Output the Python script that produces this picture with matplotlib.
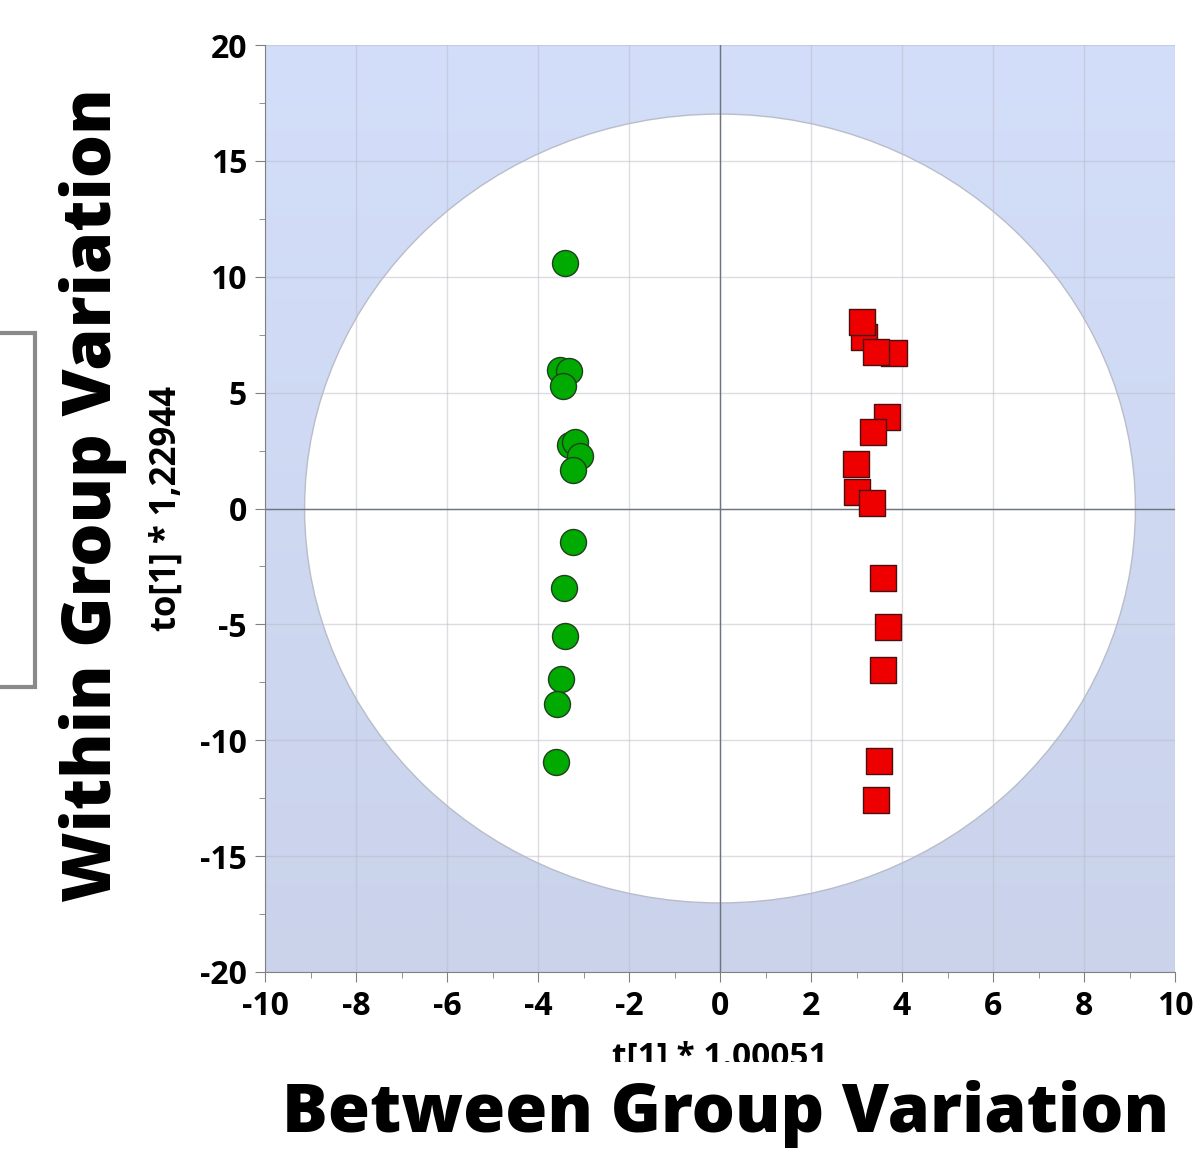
import numpy as np
import matplotlib
matplotlib.use("Agg")
import matplotlib.pyplot as plt
from matplotlib.patches import Ellipse, Rectangle

plt.rcParams['font.family'] = ['Open Sans', 'DejaVu Sans']
plt.rcParams['axes.unicode_minus'] = False

# scores
green_x = [-3.41, -3.52, -3.32, -3.45, -3.30, -3.19, -3.08, -3.23, -3.23, -3.43, -3.41, -3.49, -3.58, -3.60]
green_y = [10.58, 5.96, 5.92, 5.27, 2.72, 2.89, 2.25, 1.68, -1.43, -3.41, -5.49, -7.34, -8.42, -10.93]

red_x = [3.16, 3.12, 3.82, 3.43, 3.67, 3.36, 2.99, 3.01, 3.34, 3.58, 3.69, 3.58, 3.49, 3.43]
red_y = [7.39, 8.03, 6.70, 6.74, 3.93, 3.28, 1.90, 0.73, 0.22, -3.02, -5.10, -6.95, -10.89, -12.57]

# Hotelling T2 ellipse semi axes
ell_a = 9.13
ell_b = 17.02

x_ticks = [-10, -8, -6, -4, -2, 0, 2, 4, 6, 8, 10]
y_ticks = [-20, -15, -10, -5, 0, 5, 10, 15, 20]

fig = plt.figure(figsize=(12.01, 11.57), dpi=100)
ax = fig.add_axes([265/1201, 1-972/1157, 910/1201, 927/1157])

# blue background gradient
grad = np.linspace(0, 1, 256).reshape(-1, 1)
top = np.array([211, 222, 250]) / 255
bot = np.array([202, 211, 234]) / 255
img = top[None, None, :] * (1 - grad[:, :, None]) + bot[None, None, :] * grad[:, :, None]
ax.imshow(img, extent=(-10, 10, -20, 20), aspect='auto', origin='upper', zorder=0.1)

ax.add_patch(Ellipse((0, 0), 2*ell_a, 2*ell_b, facecolor='white', edgecolor='#b9bdc9', lw=1, zorder=0.3))

ax.set_axisbelow(True)
ax.grid(True, color='#b8bcc6', alpha=0.5, lw=1)
ax.axhline(0, color='#6e7380', lw=1, zorder=0.6)
ax.axvline(0, color='#6e7380', lw=1, zorder=0.6)

ax.scatter(green_x, green_y, s=350, marker='o', color='#00aa00', edgecolor='#1f3f1f', lw=1, zorder=3)
ax.scatter(red_x, red_y, s=330, marker='s', color='#ee0000', edgecolor='#4a1010', lw=1, zorder=3)

ax.set_xlim(-10, 10)
ax.set_ylim(-20, 20)
ax.set_xticks(x_ticks)
ax.set_yticks(y_ticks)
ax.set_xticks(np.arange(-10, 11, 1), minor=True)
ax.set_yticks(np.arange(-20, 21, 2.5), minor=True)
ax.tick_params(which='major', length=7, color='#808080', labelsize=23, pad=6)
ax.tick_params(which='minor', length=4, color='#808080')
for lab in ax.get_xticklabels() + ax.get_yticklabels():
    lab.set_fontweight('bold')
for s in ['top', 'right']:
    ax.spines[s].set_visible(False)
for s in ['left', 'bottom']:
    ax.spines[s].set_color('#808080')

ax.set_xlabel('t[1] * 1.00051', fontsize=24, fontweight='bold', labelpad=13)
ax.set_ylabel('to[1] * 1,22944', fontsize=25, fontweight='bold', labelpad=11)

# gray box on the left edge
fig.patches.append(Rectangle((-10/1201, 1-687/1157), 45/1201, 354/1157, transform=fig.transFigure,
                             facecolor='white', edgecolor='#8a8a8a', lw=3))
# white strip that hides the lower part of the x label
fig.patches.append(Rectangle((0, 0), 1, 1-1062/1157, transform=fig.transFigure,
                             facecolor='white', edgecolor='none', zorder=2))

fig.text(726/1201, 1-1114/1157, 'Between Group Variation', fontsize=49, fontweight='heavy',
         ha='center', va='center', zorder=3)
fig.text(93/1201, 1-495/1157, 'Within Group Variation', fontsize=49, fontweight='heavy',
         ha='center', va='center', rotation=90, zorder=3)

fig.savefig('out.png', dpi=100, facecolor='white')
